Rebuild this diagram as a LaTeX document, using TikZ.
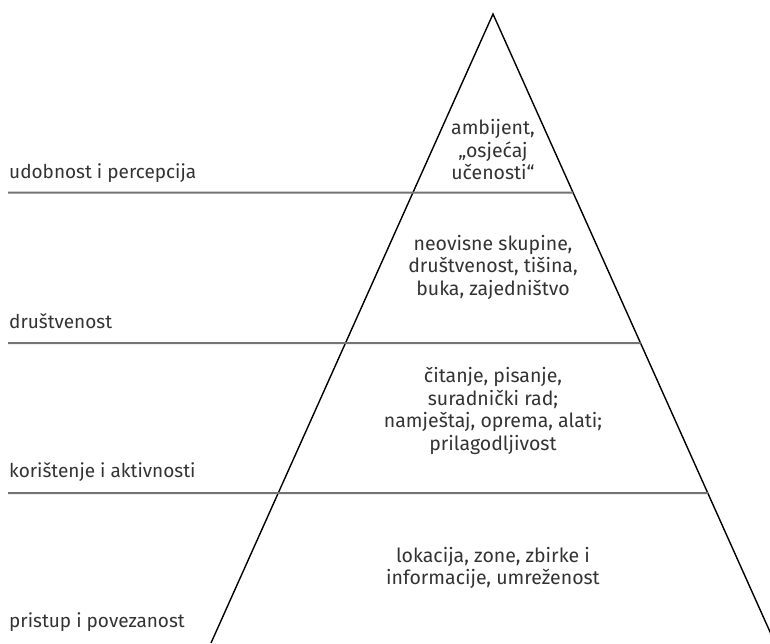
\documentclass[tikz,border=0pt]{standalone}
\usepackage{fontspec}
\setmainfont{Fira Sans}
\usetikzlibrary{calc}
\definecolor{txtgrey}{HTML}{333333}
\definecolor{rulegrey}{HTML}{747474}
\begin{document}
\begin{tikzpicture}[
    x=1pt, y=-1pt,
    side/.style={line width=1.4pt, draw=black},
    level/.style={line width=2pt, draw=rulegrey},
    label/.style={anchor=base west, inner sep=0pt, text=txtgrey, font=\fontsize{19}{22.5}\selectfont},
    inside/.style={align=center, inner sep=0pt, text=txtgrey, font=\fontsize{19.5}{22.5}\selectfont}
]
\useasboundingbox (0,0) rectangle (770,643);

% Pyramid
\coordinate (apex) at (493,14);
\coordinate (BL) at (211,643);
\coordinate (BR) at (775,643);

\begin{scope}
\clip (0,0) rectangle (770,643);
\draw[side] (BL) -- (apex) -- (BR);
\end{scope}

% Levels
\coordinate (L1) at (8,192.5);
\coordinate (R1) at ($(apex)!{(192.5-14)/629}!(BR)$);
\coordinate (L2) at (8,343);
\coordinate (R2) at ($(apex)!{(343-14)/629}!(BR)$);
\coordinate (L3) at (8,493);
\coordinate (R3) at ($(apex)!{(493-14)/629}!(BR)$);

\draw[level] (L1) -- (R1);
\draw[level] (L2) -- (R2);
\draw[level] (L3) -- (R3);

% Labels
\node[label] (lab1) at (9,178) {udobnost i percepcija};
\node[label] (lab2) at (9,328) {društvenost};
\node[label] (lab3) at (9,477) {korištenje i aktivnosti};
\node[label] (lab4) at (9,627) {pristup i povezanost};

% Contents
\node[inside] (in1) at (493,150) {ambijent,\\„osjećaj\\učenosti“};
\node[inside] (in2) at (493,267) {neovisne skupine,\\društvenost, tišina,\\buka, zajedništvo};
\node[inside] (in3) at (493,411) {čitanje, pisanje,\\suradnički rad;\\namještaj, oprema, alati;\\prilagodljivost};
\node[inside] (in4) at (493,568) {lokacija, zone, zbirke i\\informacije, umreženost};

\end{tikzpicture}
\end{document}
